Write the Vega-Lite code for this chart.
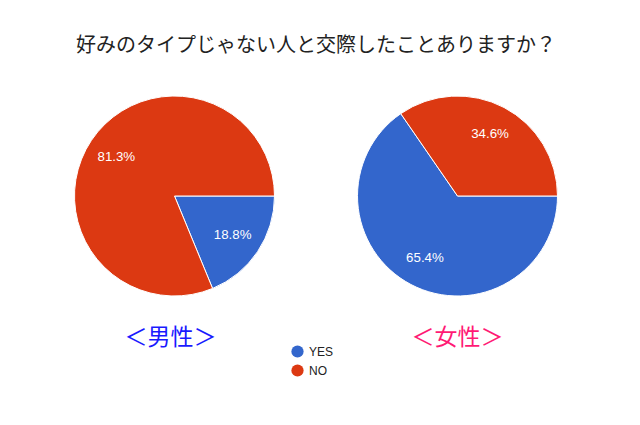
{
  "$schema": "https://vega.github.io/schema/vega-lite/v6.json",
  "background": "white",
  "padding": {"left": 33, "top": 36, "right": 0, "bottom": 0},
  "title": {
    "text": "好みのタイプじゃない人と交際したことありますか？",
    "anchor": "middle",
    "fontSize": 20,
    "font": "Noto Sans CJK JP",
    "fontWeight": "normal",
    "color": "#222222",
    "offset": 38
  },
  "data": {
    "values": [
      {"group": "男性", "answer": "YES", "share": 0.188},
      {"group": "男性", "answer": "NO", "share": 0.813},
      {"group": "女性", "answer": "YES", "share": 0.654},
      {"group": "女性", "answer": "NO", "share": 0.346}
    ]
  },
  "spacing": 0,
  "config": {
    "view": {"stroke": null},
    "legend": {
      "orient": "none",
      "legendX": 258,
      "legendY": 249,
      "title": null,
      "symbolType": "circle",
      "symbolSize": 150,
      "symbolStrokeWidth": 0,
      "labelFontSize": 12,
      "labelFont": "Liberation Sans",
      "labelColor": "#222222",
      "labelOffset": 5,
      "rowPadding": 6
    }
  },
  "hconcat": [
    {
      "width": 283,
      "height": 200,
      "title": {
        "text": "＜男性＞",
        "orient": "bottom",
        "anchor": "middle",
        "fontSize": 23,
        "font": "Noto Sans CJK JP",
        "fontWeight": "normal",
        "color": "#1a1aff",
        "offset": 29,
        "dx": -4
      },
      "transform": [{"filter": "datum.group === '男性'"}],
      "encoding": {
        "theta": {"field": "share", "type": "quantitative", "stack": true, "scale": {"range": [1.5708, 7.854]}},
        "color": {
          "field": "answer",
          "type": "nominal",
          "scale": {"domain": ["YES", "NO"], "range": ["#3366cc", "#dc3912"]},
          "legend": {}
        },
        "order": {"field": "answer", "sort": "descending"}
      },
      "layer": [
        {"mark": {"type": "arc", "outerRadius": 100, "stroke": "white", "strokeWidth": 1}},
        {
          "mark": {"type": "text", "radius": 70, "fill": "white", "fontSize": 13.3, "font": "Liberation Sans"},
          "encoding": {"text": {"field": "share", "type": "quantitative", "format": ".1%"}, "color": {"value": "white"}}
        }
      ]
    },
    {
      "width": 283,
      "height": 200,
      "title": {
        "text": "＜女性＞",
        "orient": "bottom",
        "anchor": "middle",
        "fontSize": 23,
        "font": "Noto Sans CJK JP",
        "fontWeight": "normal",
        "color": "#ff1a75",
        "offset": 29
      },
      "transform": [{"filter": "datum.group === '女性'"}],
      "encoding": {
        "theta": {"field": "share", "type": "quantitative", "stack": true, "scale": {"range": [1.5708, 7.854]}},
        "color": {
          "field": "answer",
          "type": "nominal",
          "scale": {"domain": ["YES", "NO"], "range": ["#3366cc", "#dc3912"]},
          "legend": {}
        },
        "order": {"field": "answer", "sort": "descending"}
      },
      "layer": [
        {"mark": {"type": "arc", "outerRadius": 100, "stroke": "white", "strokeWidth": 1}},
        {
          "mark": {"type": "text", "radius": 70, "fill": "white", "fontSize": 13.3, "font": "Liberation Sans"},
          "encoding": {"text": {"field": "share", "type": "quantitative", "format": ".1%"}, "color": {"value": "white"}}
        }
      ]
    }
  ],
  "resolve": {"scale": {"theta": "independent"}}
}
